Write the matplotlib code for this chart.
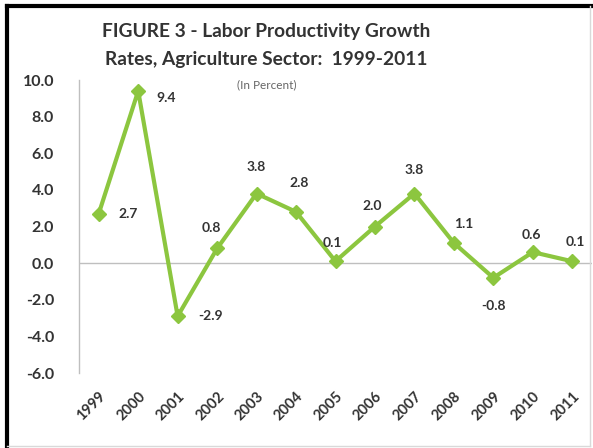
import matplotlib.pyplot as plt
from matplotlib.lines import Line2D

years = ['1999', '2000', '2001', '2002', '2003', '2004', '2005',
         '2006', '2007', '2008', '2009', '2010', '2011']
growth = [2.7, 9.4, -2.9, 0.8, 3.8, 2.8, 0.1, 2.0, 3.8, 1.1, -0.8, 0.6, 0.1]
labels = ['2.7', '9.4', '-2.9', '0.8', '3.8', '2.8', '0.1',
          '2.0', '3.8', '1.1', '-0.8', '0.6', '0.1']
# label offsets in points (dx, dy)
offsets = [(21, 0), (20, -5), (24, 0), (-4, 15), (0, 19), (2, 21), (-2, 13),
           (-2, 15), (0, 17), (7, 14), (0, -20), (-1, 12), (2, 14)]

plt.rcParams['font.family'] = ['Lato', 'DejaVu Sans']
green = '#8cc63f'
grey_txt = '#333333'

fig = plt.figure(figsize=(5.93, 4.48), dpi=100)
ax = fig.add_axes([79 / 593, 75 / 448, (592 - 79) / 593, (373 - 80) / 448])

x = list(range(len(years)))
ax.plot(x, growth, color=green, lw=3, marker='D', ms=7.5, zorder=3)

for i in x:
    ax.annotate(labels[i], (i, growth[i]), xytext=offsets[i], textcoords='offset points',
                ha='center', va='center', fontsize=10, fontweight='bold', color=grey_txt)

ax.axhline(0, color='#bfbfbf', lw=1, zorder=1)
ax.set_xlim(-0.5, 12.5)
ax.set_ylim(-6, 10)
ax.set_yticks([-6, -4, -2, 0, 2, 4, 6, 8, 10])
ax.set_yticklabels([f'{v:.1f}' for v in [-6, -4, -2, 0, 2, 4, 6, 8, 10]])
ax.set_xticks(x)
ax.set_xticklabels(years, rotation=45, ha='right', va='top', rotation_mode='anchor')
ax.tick_params(axis='y', length=0, pad=18, labelsize=11.5, labelcolor=grey_txt)
ax.tick_params(axis='x', length=0, pad=12, labelsize=10.5, labelcolor=grey_txt)
for lab in ax.get_xticklabels() + ax.get_yticklabels():
    lab.set_fontweight('bold')

for side in ['top', 'right', 'bottom']:
    ax.spines[side].set_visible(False)
ax.spines['left'].set_color('#bfbfbf')
ax.spines['left'].set_linewidth(1)

fig.text(266 / 593, 1 - 32 / 448, 'FIGURE 3 - Labor Productivity Growth',
         ha='center', va='center', fontsize=13.8, fontweight='bold', color=grey_txt)
fig.text(266 / 593, 1 - 60 / 448, 'Rates, Agriculture Sector:  1999-2011',
         ha='center', va='center', fontsize=13.8, fontweight='bold', color=grey_txt)
fig.text(267 / 593, 1 - 85 / 448, '(In Percent)',
         ha='center', va='center', fontsize=8.5, color='#666666')

# chart frame
fig.add_artist(Line2D([7 / 593, 7 / 593], [0, 1 - 6 / 448], color='black', lw=3))
fig.add_artist(Line2D([7 / 593, 1], [1 - 6 / 448, 1 - 6 / 448], color='black', lw=3))
fig.add_artist(Line2D([590 / 593, 590 / 593], [2 / 448, 1 - 6 / 448], color='#d9d9d9', lw=1))
fig.add_artist(Line2D([7 / 593, 590 / 593], [2 / 448, 2 / 448], color='#d9d9d9', lw=1))

fig.savefig('out.png', dpi=100)
plt.close()
